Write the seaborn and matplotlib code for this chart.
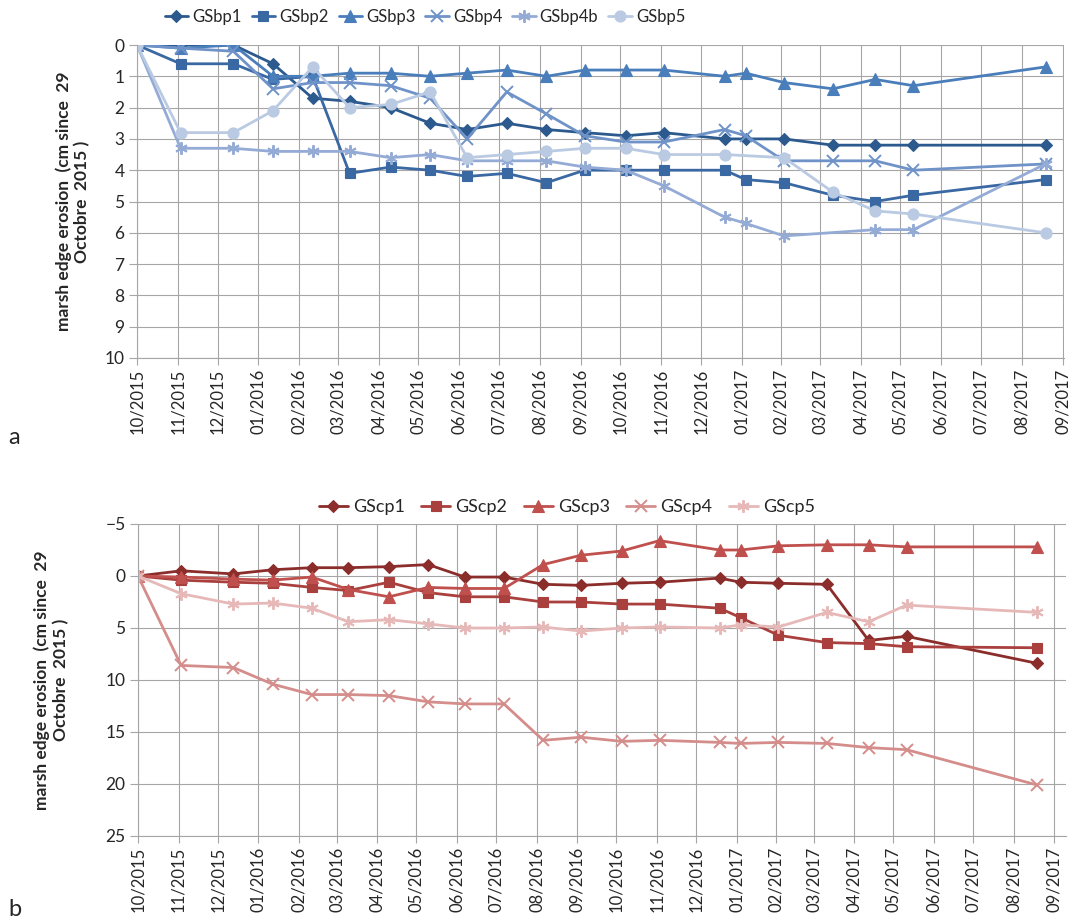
import numpy as np
import pandas as pd
import matplotlib
matplotlib.use("Agg")
import matplotlib.pyplot as plt
import matplotlib.dates as mdates
from matplotlib.lines import Line2D
import seaborn as sns

# ---------------- data ----------------
dates = ["2015-10-29", "2015-12-01", "2016-01-10", "2016-02-09", "2016-03-10",
         "2016-04-07", "2016-05-08", "2016-06-07", "2016-07-05", "2016-08-04",
         "2016-09-03", "2016-10-02", "2016-11-02", "2016-12-01", "2017-01-16",
         "2017-02-01", "2017-03-02", "2017-04-08", "2017-05-10", "2017-06-08",
         "2017-09-16"]

nan = np.nan
GSbp1 = [0, 0, 0, 0.6, 1.7, 1.8, 2.0, 2.5, 2.7, 2.5, 2.7, 2.8, 2.9, 2.8, 3.0, 3.0, 3.0, 3.2, 3.2, 3.2, 3.2]
GSbp2 = [0, 0.6, 0.6, 1.1, 1.0, 4.1, 3.9, 4.0, 4.2, 4.1, 4.4, 4.0, 4.0, 4.0, 4.0, 4.3, 4.4, 4.8, 5.0, 4.8, 4.3]
GSbp3 = [0, 0.1, 0.0, 1.0, 1.0, 0.9, 0.9, 1.0, 0.9, 0.8, 1.0, 0.8, 0.8, 0.8, 1.0, 0.9, 1.2, 1.4, 1.1, 1.3, 0.7]
GSbp4 = [0, 0.1, 0.2, 1.4, 1.2, 1.2, 1.3, 1.7, 3.0, 1.5, 2.2, 2.9, 3.1, 3.1, 2.7, 2.9, 3.7, 3.7, 3.7, 4.0, 3.8]
GSbp4b = [0, 3.3, 3.3, 3.4, 3.4, 3.4, 3.6, 3.5, 3.7, 3.7, 3.7, 3.9, 4.0, 4.5, 5.5, 5.7, 6.1, nan, 5.9, 5.9, 3.8]
GSbp5 = [0, 2.8, 2.8, 2.1, 0.7, 2.0, 1.9, 1.5, 3.6, 3.5, 3.4, 3.3, 3.3, 3.5, 3.5, nan, 3.6, 4.7, 5.3, 5.4, 6.0]

GScp1 = [0, -0.5, -0.2, -0.6, -0.8, -0.8, -0.9, -1.1, 0.1, 0.1, 0.8, 0.9, 0.7, 0.6, 0.2, 0.6, 0.7, 0.8, 6.2, 5.8, 8.4]
GScp2 = [0, 0.4, 0.6, 0.7, 1.1, 1.4, 0.6, 1.6, 2.0, 2.0, 2.5, 2.5, 2.7, 2.7, 3.1, 4.0, 5.7, 6.4, 6.5, 6.8, 6.9]
GScp3 = [0, 0.1, 0.3, 0.4, 0.1, 1.3, 2.0, 1.1, 1.2, 1.2, -1.1, -2.0, -2.4, -3.4, -2.5, -2.5, -2.9, -3.0, -3.0, -2.8, -2.8]
GScp4 = [0, 8.6, 8.8, 10.4, 11.4, 11.4, 11.5, 12.1, 12.3, 12.3, 15.8, 15.5, 15.9, 15.8, 16.0, 16.1, 16.0, 16.1, 16.5, 16.7, 20.1]
GScp5 = [0, 1.7, 2.7, 2.6, 3.1, 4.4, 4.2, 4.6, 5.0, 5.0, 4.9, 5.3, 5.0, 4.9, 5.0, 4.7, 4.9, 3.5, 4.4, 2.8, 3.5]

top_names = ["GSbp1", "GSbp2", "GSbp3", "GSbp4", "GSbp4b", "GSbp5"]
top_series = [GSbp1, GSbp2, GSbp3, GSbp4, GSbp4b, GSbp5]
bot_names = ["GScp1", "GScp2", "GScp3", "GScp4", "GScp5"]
bot_series = [GScp1, GScp2, GScp3, GScp4, GScp5]

top_colors = ["#2C5A8E", "#3A68A3", "#4A7EBB", "#6F93C8", "#94ABD6", "#BACAE3"]
bot_colors = ["#8B2D2A", "#A9403D", "#C0504D", "#D48D8B", "#E6B9B8"]
marker_list = ["D", "s", "^", "x", (6, 2, 0), "o"]
bot_markers = ["D", "s", "^", "x", (6, 2, 0)]
msizes = {"D": 6.5, "s": 7.5, "^": 8, "x": 8, "o": 8}

ylabel_txt = "marsh edge erosion  (cm since  29\nOctobre  2015 )"

# ---------------- style ----------------
sns.set_theme(style="white")
plt.rcParams["font.family"] = ["Lato", "DejaVu Sans"]

fig = plt.figure(figsize=(10.75, 9.24), dpi=100)
ax1 = fig.add_axes([137 / 1075, 1 - 358 / 924, 927 / 1075, 313 / 924])
ax2 = fig.add_axes([138 / 1075, 1 - 836 / 924, 928 / 1075, 312 / 924])

x = pd.to_datetime(dates)
start = x[0]


def draw(ax, names, series, colors, markers):
    handles = []
    for name, vals, col, mk in zip(names, series, colors, markers):
        df = pd.DataFrame({"date": x, "value": vals}).dropna()
        key = mk if isinstance(mk, str) else "*"
        ms = msizes.get(key, 9)
        mew = 1.4 if mk in ("x",) or not isinstance(mk, str) else 0.8
        sns.lineplot(data=df, x="date", y="value", ax=ax, color=col,
                     linewidth=2.0, marker=mk, markersize=ms,
                     markeredgecolor=col, markerfacecolor=col,
                     markeredgewidth=mew, estimator=None, sort=False)
        handles.append(Line2D([], [], color=col, lw=2.0, marker=mk, markersize=ms,
                              markeredgecolor=col, markerfacecolor=col,
                              markeredgewidth=mew, label=name))
    return handles


h1 = draw(ax1, top_names, top_series, top_colors, marker_list)
h2 = draw(ax2, bot_names, bot_series, bot_colors, bot_markers)

ticks = [start + pd.DateOffset(months=i) for i in range(24)]

for ax, xr, ylim, yt in [
    (ax1, start + pd.DateOffset(months=23) + pd.Timedelta(days=1), (10, 0), np.arange(0, 11, 1)),
    (ax2, start + pd.DateOffset(months=23) + pd.Timedelta(days=9), (25, -5), np.arange(-5, 26, 5)),
]:
    ax.set_xlim(start, xr)
    ax.set_ylim(*ylim)
    ax.set_yticks(yt)
    ax.set_xticks(ticks)
    ax.xaxis.set_major_formatter(mdates.DateFormatter("%m/%Y"))
    ax.tick_params(axis="x", rotation=90, labelsize=12, length=5, width=0.8,
                   color="#A6A6A6", direction="out", bottom=True, pad=3)
    ax.tick_params(axis="y", labelsize=12.5, length=6, width=0.8,
                   color="#A6A6A6", direction="out", left=True, pad=3)
    ax.grid(True, color="#A6A6A6", linewidth=0.8)
    ax.set_axisbelow(True)
    for s in ["top", "right"]:
        ax.spines[s].set_visible(False)
    for s in ["left", "bottom"]:
        ax.spines[s].set_color("#A6A6A6")
        ax.spines[s].set_linewidth(0.8)
    ax.set_xlabel("")
    ax.set_ylabel(ylabel_txt, fontsize=12.5, fontweight="bold", linespacing=1.2)
    for lab in ax.get_xticklabels():
        lab.set_horizontalalignment("center")

ax1.yaxis.set_label_coords(-0.05, 0.5)
ax2.yaxis.set_label_coords(-0.074, 0.5)

fig.legend(handles=h1, loc="center", bbox_to_anchor=(425 / 1075, 1 - 17 / 924),
           ncol=6, frameon=False, fontsize=12, handlelength=1.4,
           columnspacing=0.6, handletextpad=0.25)
fig.legend(handles=h2, loc="center", bbox_to_anchor=(567 / 1075, 1 - 507 / 924),
           ncol=5, frameon=False, fontsize=13, handlelength=1.6,
           columnspacing=0.9, handletextpad=0.3)

fig.text(8 / 1075, 1 - 438 / 924, "a", fontsize=17, va="center", ha="left")
fig.text(8 / 1075, 1 - 910 / 924, "b", fontsize=17, va="center", ha="left")

fig.savefig("out.png", dpi=100)
